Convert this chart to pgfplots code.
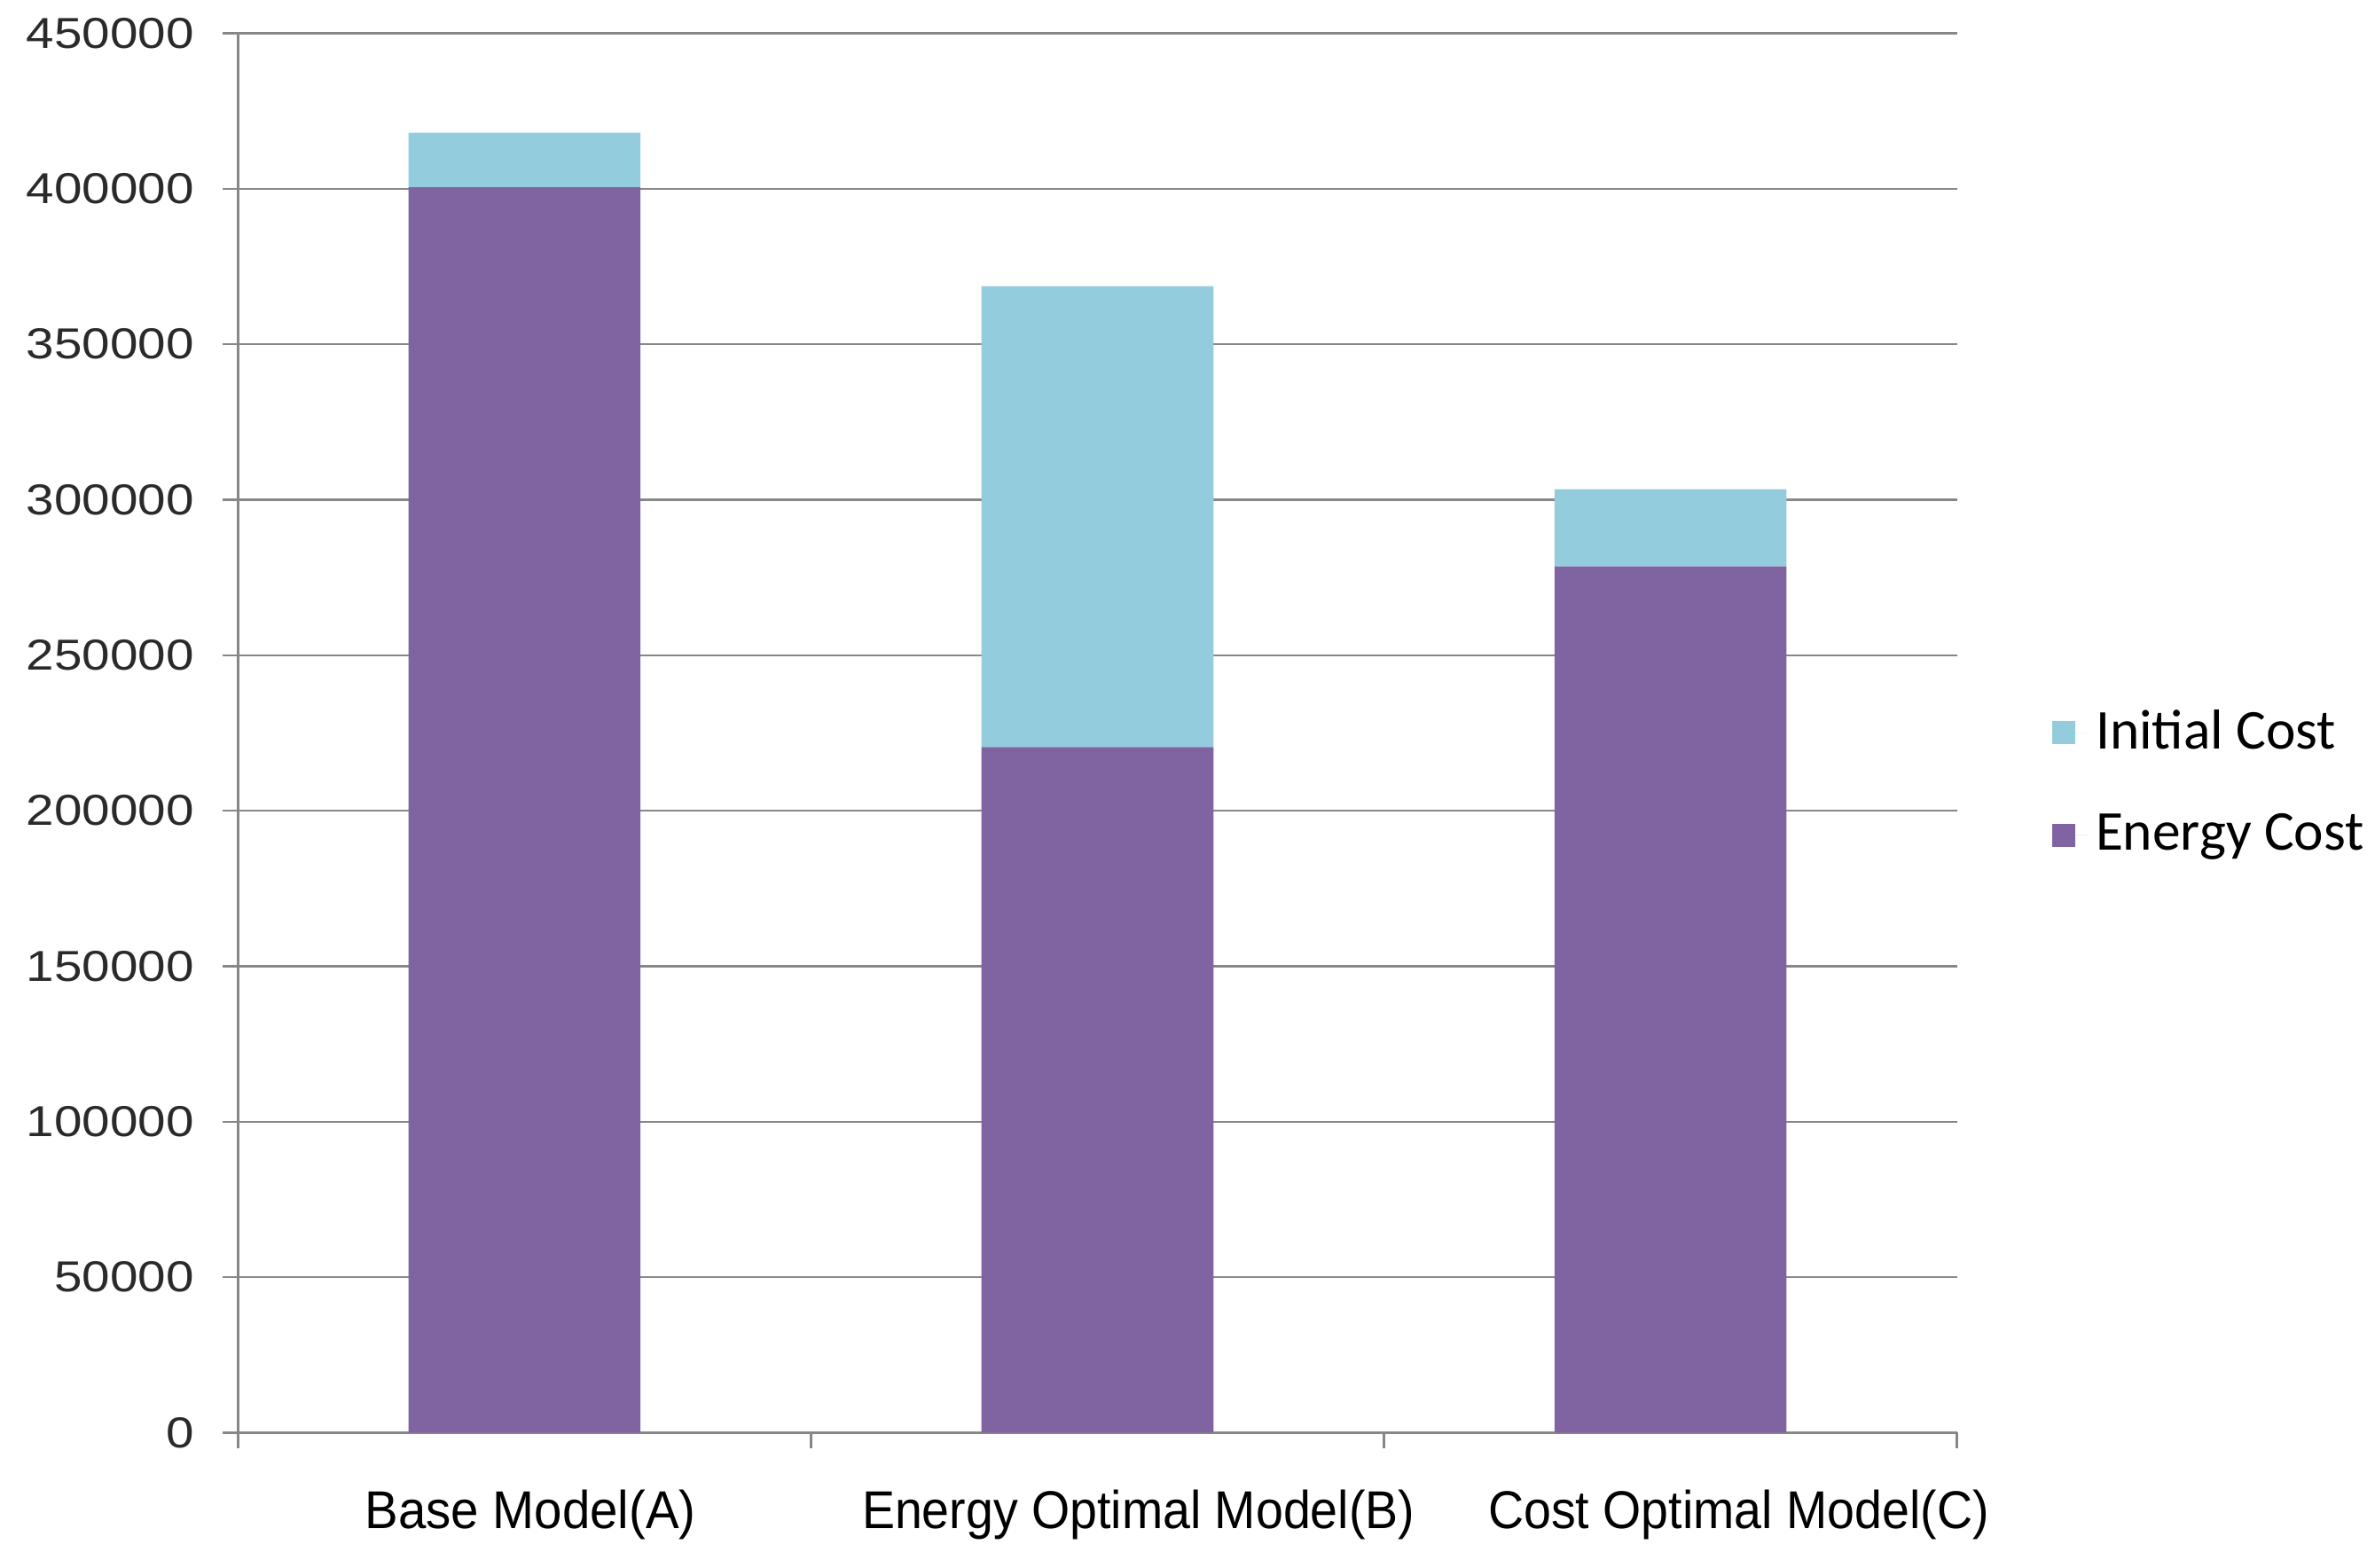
\documentclass[border=0pt]{standalone}
\usepackage{fontspec}
\setmainfont{Liberation Sans}
\newfontfamily\legfont{Carlito}
\usepackage{pgfplots}
\pgfplotsset{compat=1.18}
\definecolor{energyc}{HTML}{8064A2}
\definecolor{initc}{HTML}{93CDDD}
\definecolor{gridc}{HTML}{878787}
\begin{document}
\begin{tikzpicture}
\begin{axis}[
  scale only axis, width=397.25pt, height=323.4pt,
  ybar stacked, bar width=0.405,
  xmin=-0.5, xmax=2.5, ymin=0, ymax=450000,
  axis x line*=bottom, axis y line*=left,
  axis line style={gridc, line width=0.6pt},
  ymajorgrids, grid style={gridc, line width=0.5pt},
  tick style={gridc, line width=0.5pt},
  tick align=outside, major tick length=3.5pt,
  scaled y ticks=false,
  /pgf/number format/assume math mode=true,
  ytick={0,50000,100000,150000,200000,250000,300000,350000,400000,450000},
  yticklabel={\scalebox{1.16}[1]{\fontsize{10}{11}\selectfont\color[HTML]{2A2A2A}\pgfmathprintnumber[fixed,1000 sep={},assume math mode=true]{\tick}}},
  yticklabel style={inner sep=0pt, xshift=-6.5pt},
  xtick={-0.5,0.5,1.5,2.5}, xticklabels={},
  extra x ticks={0,1,2},
  extra x tick labels={\hspace*{2.8pt}\scalebox{0.94}[1]{Base Model(A)}, \hspace*{18.9pt}\scalebox{0.925}[1]{Energy Optimal Model(B)}, \hspace*{31.5pt}\scalebox{0.925}[1]{Cost Optimal Model(C)}},
  extra x tick style={major tick length=0pt, grid=none,
     xticklabel style={font=\fontsize{12.3}{14}\selectfont, inner sep=0pt, yshift=-13pt}},
  legend style={at={(1.055,0.464)}, anchor=west, draw=none, fill=none,
     inner sep=0pt, font=\legfont\fontsize{13}{15}\selectfont, row sep=10.5pt,
     nodes={inner sep=1.5pt}},
  legend cell align=left,
  reverse legend,
  legend image code/.code={\fill[#1,draw=none] (0pt,-2.6pt) rectangle (5.2pt,2.6pt);
     \path (0pt,0pt) -- (8.5pt,0pt);},
]
\addplot[fill=energyc, draw=none] coordinates {(0,400500) (1,220500) (2,278600)};
\addlegendentry{Energy Cost}
\addplot[fill=initc, draw=none] coordinates {(0,17500) (1,148200) (2,24800)};
\addlegendentry{Initial Cost}
\coordinate (sw) at (rel axis cs:0,0);
\coordinate (ne) at (rel axis cs:1,1);
\end{axis}
\pgfresetboundingbox
\path ([shift={(-55pt,-31.2pt)}]sw) rectangle ([shift={(96.6pt,7.7pt)}]ne);
\end{tikzpicture}
\end{document}
